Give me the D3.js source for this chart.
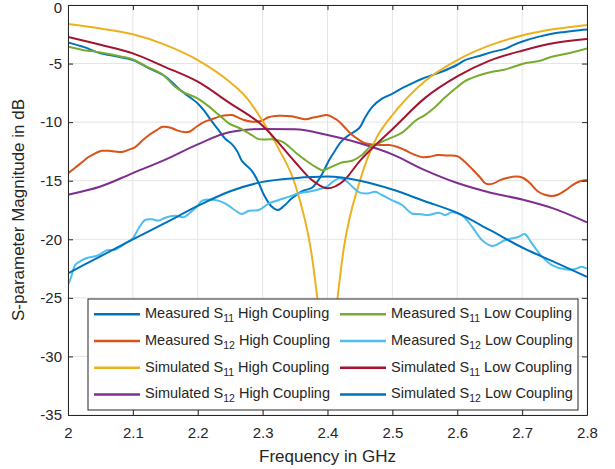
<!DOCTYPE html>
<html>
<head>
<meta charset="utf-8">
<script src="https://cdn.jsdelivr.net/npm/d3@7/dist/d3.min.js"></script>
<style>
    body { margin: 0; background: #fff; }
    text { font-family: 'Liberation Sans', Arial, Helvetica, sans-serif; fill: #262626; }
</style>
</head>
<body>
<script>
// ======================= DATA =======================
const xTicks = [2, 2.1, 2.2, 2.3, 2.4, 2.5, 2.6, 2.7, 2.8]
const yTicks = [0, -5, -10, -15, -20, -25, -30, -35]

const seriesNames = [
    'Measured S11 High Coupling', 'Measured S12 High Coupling',
    'Simulated S11 High Coupling', 'Simulated S12 High Coupling',
    'Measured S11 Low Coupling', 'Measured S12 Low Coupling',
    'Simulated S11 Low Coupling', 'Simulated S12 Low Coupling'
]
const seriesColors = ['#0072BD', '#D95319', '#EDB120', '#7E2F8E', '#77AC30', '#4DBEEE', '#A2142F', '#0072BD']

// measured S11, high coupling
const measS11HighFreq = [2.000, 2.025, 2.049, 2.076, 2.100, 2.125, 2.150, 2.174, 2.200, 2.211, 2.220, 2.231, 2.242, 2.253, 2.261, 2.268,
    2.284, 2.294, 2.302, 2.314, 2.324, 2.334, 2.345, 2.361, 2.376, 2.384, 2.392, 2.402, 2.412, 2.422, 2.433, 2.449, 2.458, 2.469,
    2.484, 2.499, 2.515, 2.530, 2.546, 2.561, 2.576, 2.600, 2.612, 2.634, 2.654, 2.674, 2.687, 2.704, 2.726, 2.746, 2.766, 2.781, 2.800]
const measS11High = [-3.2, -3.6, -4.1, -4.4, -4.7, -5.4, -6.1, -7.3, -8.4, -9.1, -9.8, -10.6, -11.4, -11.9, -12.5, -13.3,
    -14.2, -15.2, -16.2, -17.2, -17.5, -17.1, -16.5, -15.9, -15.6, -15.1, -14.4, -13.3, -12.4, -11.6, -11.1, -10.5, -9.6, -8.7,
    -8.0, -7.6, -7.1, -6.7, -6.3, -6.0, -5.7, -5.1, -4.7, -4.35, -4.0, -3.75, -3.4, -3.05, -2.7, -2.45, -2.3, -2.2, -2.1]

// measured S12, high coupling
const measS12HighFreq = [2.000, 2.011, 2.022, 2.031, 2.042, 2.052, 2.063, 2.072, 2.083, 2.094, 2.103, 2.114, 2.125, 2.136, 2.146, 2.157,
    2.168, 2.179, 2.188, 2.199, 2.211, 2.222, 2.233, 2.244, 2.253, 2.262, 2.271, 2.284, 2.299, 2.308, 2.319, 2.334, 2.345, 2.358,
    2.367, 2.378, 2.388, 2.399, 2.408, 2.419, 2.429, 2.438, 2.447, 2.458, 2.469, 2.481, 2.495, 2.507, 2.519, 2.535, 2.547, 2.558,
    2.570, 2.584, 2.600, 2.612, 2.623, 2.635, 2.644, 2.655, 2.666, 2.678, 2.691, 2.701, 2.712, 2.724, 2.735, 2.746, 2.755, 2.766,
    2.777, 2.789, 2.800]
const measS12High = [-14.37, -13.9, -13.4, -13.0, -12.66, -12.45, -12.45, -12.5, -12.55, -12.35, -12.15, -11.6, -11.1, -10.7, -10.4, -10.45,
    -10.7, -10.85, -10.8, -10.35, -9.96, -9.75, -9.53, -9.42, -9.39, -9.6, -9.82, -9.96, -9.88, -9.6, -9.47, -9.47, -9.5, -9.67,
    -9.76, -9.6, -9.5, -9.39, -9.6, -10.0, -10.6, -11.1, -11.45, -11.8, -11.9, -11.95, -11.95, -12.1, -12.38, -12.8, -13.0, -12.95,
    -12.8, -12.85, -12.9, -13.4, -14.0, -14.7, -15.25, -15.25, -14.95, -14.75, -14.65, -14.75, -15.2, -15.9, -16.2, -16.3, -16.2, -15.85,
    -15.4, -15.05, -14.94]

// simulated S11, high coupling (the notch goes down behind the legend)
const simS11HighFreq = [2.00, 2.05, 2.10, 2.15, 2.20, 2.25, 2.275, 2.30, 2.325, 2.35, 2.375, 2.39, 2.40, 2.41, 2.425, 2.45, 2.475,
    2.50, 2.55, 2.60, 2.65, 2.70, 2.75, 2.80]
const simS11High = [-1.62, -2.0, -2.5, -3.4, -4.7, -6.6, -7.9, -9.9, -12.3, -15.3, -21.1, -27.5, -31.5, -27.5, -20.8, -15.0, -11.4,
    -9.4, -6.5, -4.7, -3.45, -2.6, -2.05, -1.7]

// simulated S12, high coupling
const simS12HighFreq = [2.00, 2.05, 2.10, 2.15, 2.20, 2.25, 2.30, 2.35, 2.40, 2.45, 2.50, 2.55, 2.60, 2.65, 2.70, 2.75, 2.80]
const simS12High = [-16.2, -15.5, -14.35, -13.2, -11.9, -10.85, -10.58, -10.6, -11.1, -11.8, -12.75, -14.1, -15.2, -16.0, -16.6, -17.4, -18.55]

// measured S11, low coupling
const measS11LowFreq = [2.000, 2.022, 2.042, 2.063, 2.083, 2.100, 2.119, 2.145, 2.165, 2.180, 2.199, 2.211, 2.233, 2.248, 2.264, 2.279,
    2.294, 2.314, 2.330, 2.341, 2.353, 2.365, 2.381, 2.392, 2.407, 2.422, 2.438, 2.453, 2.466, 2.479, 2.495, 2.515, 2.535, 2.550,
    2.566, 2.581, 2.600, 2.612, 2.634, 2.654, 2.674, 2.687, 2.704, 2.726, 2.746, 2.766, 2.800]
const measS11Low = [-3.55, -3.84, -3.98, -4.18, -4.41, -4.64, -5.2, -5.9, -6.97, -7.5, -7.95, -8.4, -9.4, -10.1, -10.5, -10.95,
    -11.45, -11.47, -11.67, -12.1, -12.7, -13.2, -13.8, -14.1, -13.8, -13.45, -13.3, -12.8, -12.1, -11.8, -11.4, -10.9, -9.9, -9.4,
    -8.7, -7.9, -7.0, -6.5, -6.0, -5.7, -5.5, -5.27, -4.98, -4.78, -4.41, -4.18, -3.7]

// measured S12, low coupling
const measS12LowFreq = [2.000, 2.005, 2.011, 2.018, 2.029, 2.042, 2.049, 2.059, 2.072, 2.088, 2.100, 2.109, 2.119, 2.129, 2.140, 2.150,
    2.165, 2.179, 2.188, 2.199, 2.207, 2.227, 2.242, 2.257, 2.268, 2.279, 2.294, 2.310, 2.325, 2.341, 2.356, 2.371, 2.387, 2.399,
    2.408, 2.418, 2.427, 2.438, 2.449, 2.464, 2.473, 2.484, 2.499, 2.515, 2.530, 2.541, 2.556, 2.572, 2.581, 2.592, 2.607, 2.623,
    2.638, 2.654, 2.674, 2.695, 2.704, 2.715, 2.731, 2.746, 2.766, 2.781, 2.792, 2.800]
const measS12Low = [-23.9, -23.2, -22.2, -21.9, -21.6, -21.45, -21.3, -20.95, -20.9, -20.35, -19.9, -19.06, -18.35, -18.3, -18.4, -18.16,
    -18.0, -18.1, -17.73, -17.2, -16.7, -16.65, -16.93, -17.5, -17.84, -17.56, -17.5, -16.93, -16.65, -16.36, -16.07, -15.94, -15.73, -15.5,
    -15.1, -14.8, -14.94, -15.5, -16.0, -16.07, -15.94, -16.22, -16.65, -17.07, -17.8, -17.84, -17.93, -17.73, -17.93, -17.7, -17.93, -18.93,
    -20.06, -20.57, -20.06, -19.78, -19.55, -20.35, -21.5, -22.2, -22.56, -22.56, -22.34, -22.5]

// simulated S11, low coupling
const simS11LowFreq = [2.00, 2.05, 2.10, 2.15, 2.20, 2.25, 2.30, 2.35, 2.375, 2.40, 2.425, 2.45, 2.475, 2.50, 2.55, 2.60, 2.65, 2.70, 2.75, 2.80]
const simS11Low = [-2.73, -3.4, -4.13, -5.3, -6.55, -8.4, -10.3, -13.4, -14.9, -15.65, -15.0, -13.3, -11.9, -10.6, -7.95, -6.1, -4.75, -3.9, -3.25, -2.9]

// simulated S12, low coupling
const simS12LowFreq = [2.00, 2.05, 2.10, 2.15, 2.20, 2.25, 2.30, 2.35, 2.40, 2.45, 2.50, 2.55, 2.60, 2.65, 2.70, 2.75, 2.80]
const simS12Low = [-22.9, -21.45, -20.0, -18.6, -17.15, -15.9, -15.1, -14.78, -14.65, -15.0, -15.75, -16.75, -17.75, -19.2, -20.7, -21.95, -23.2]

// ======================= CHART =======================
const margin = {
        top: 5,
        right: 28,
        bottom: 54,
        left: 68
    },
    width = 615 - margin.left - margin.right,
    height = 469 - margin.top - margin.bottom

const axisColor = '#262626'
const gridColor = '#e4e4e4'

const svg = d3.select('body').append('svg')
    .attr('width', width + margin.left + margin.right)
    .attr('height', height + margin.top + margin.bottom)
    .append('g')
    .attr('transform', 'translate(' + margin.left + ',' + margin.top + ')')

const x = d3.scaleLinear().domain([2, 2.8]).range([0, width])
const y = d3.scaleLinear().domain([-35, 0]).range([height, 0])

// grid lines
svg.append('g').selectAll('line')
    .data(xTicks)
    .enter().append('line')
    .attr('x1', d => x(d)).attr('x2', d => x(d))
    .attr('y1', 0).attr('y2', height)
    .attr('stroke', gridColor)
svg.append('g').selectAll('line')
    .data(yTicks)
    .enter().append('line')
    .attr('x1', 0).attr('x2', width)
    .attr('y1', d => y(d)).attr('y2', d => y(d))
    .attr('stroke', gridColor)

// series
const series = [
    [measS11HighFreq, measS11High, 'm'],
    [measS12HighFreq, measS12High, 'm'],
    [simS11HighFreq, simS11High, 's'],
    [simS12HighFreq, simS12High, 's'],
    [measS11LowFreq, measS11Low, 'm'],
    [measS12LowFreq, measS12Low, 'm'],
    [simS11LowFreq, simS11Low, 's'],
    [simS12LowFreq, simS12Low, 's']
].map((s, i) => ({
    name: seriesNames[i],
    color: seriesColors[i],
    kind: s[2],
    values: s[0].map((f, j) => ({ f: f, v: s[1][j] }))
}))

svg.append('clipPath').attr('id', 'clip')
    .append('rect').attr('width', width).attr('height', height)

const lineMeas = d3.line().x(d => x(d.f)).y(d => y(d.v)).curve(d3.curveCatmullRom.alpha(0.5))
const lineSim = d3.line().x(d => x(d.f)).y(d => y(d.v)).curve(d3.curveMonotoneX)

svg.append('g').attr('clip-path', 'url(#clip)')
    .selectAll('path')
    .data(series)
    .enter().append('path')
    .attr('d', d => d.kind === 'm' ? lineMeas(d.values) : lineSim(d.values))
    .attr('fill', 'none')
    .attr('stroke', d => d.color)
    .attr('stroke-width', 2)
    .attr('stroke-linejoin', 'round')

// axes (ticks pointing inward, box on)
function styleAxis(g) {
    g.select('.domain').attr('stroke', axisColor)
    g.selectAll('.tick line').attr('stroke', axisColor)
    g.selectAll('.tick text').attr('fill', axisColor).attr('font-size', 15)
        .attr('font-family', "'Liberation Sans', Arial, sans-serif")
}

svg.append('g')
    .attr('transform', 'translate(0,' + height + ')')
    .call(d3.axisBottom(x).tickValues(xTicks).tickSizeInner(-5).tickSizeOuter(0).tickPadding(12)
        .tickFormat(d3.format('')))
    .call(styleAxis)

svg.append('g')
    .call(d3.axisTop(x).tickValues(xTicks).tickSizeInner(-5).tickSizeOuter(0).tickFormat(''))
    .call(styleAxis)

svg.append('g')
    .call(d3.axisLeft(y).tickValues(yTicks).tickSizeInner(-5).tickSizeOuter(0).tickPadding(6)
        .tickFormat(d => d === 0 ? '0' : '-' + Math.abs(d)))
    .call(styleAxis)
    .selectAll('.tick text')
    .attr('dy', d => d === 0 ? '0.48em' : '0.32em')

svg.append('g')
    .attr('transform', 'translate(' + width + ',0)')
    .call(d3.axisRight(y).tickValues(yTicks).tickSizeInner(-5).tickSizeOuter(0).tickFormat(''))
    .call(styleAxis)

// axis labels
svg.append('text')
    .attr('x', width / 2)
    .attr('y', 457)
    .attr('text-anchor', 'middle')
    .attr('font-size', 17)
    .text('Frequency in GHz')

svg.append('text')
    .attr('transform', 'translate(-44,' + (height / 2) + ') rotate(-90)')
    .attr('text-anchor', 'middle')
    .attr('font-size', 17)
    .text('S-parameter Magnitude in dB')

// ======================= LEGEND =======================
const legend = svg.append('g').attr('class', 'legend')

legend.append('rect')
    .attr('x', 20).attr('y', 294)
    .attr('width', 490).attr('height', 111)
    .attr('fill', '#fff')
    .attr('stroke', axisColor)
    .attr('stroke-width', 1)

const items = legend.selectAll('g.item')
    .data(series)
    .enter().append('g')
    .attr('class', 'item')
    .attr('transform', (d, i) => 'translate(' + (i < 4 ? 26 : 272) + ',' + (313.3 + (i % 4) * 26.7) + ')')

items.append('line')
    .attr('x1', 0).attr('x2', 46)
    .attr('y1', -4).attr('y2', -4)
    .attr('stroke', d => d.color)
    .attr('stroke-width', 2.5)

items.append('text')
    .attr('x', 51)
    .attr('font-size', 14.5)
    .each(function (d) {
        const parts = d.name.match(/^(.*S)(\d\d)(.*)$/)
        const t = d3.select(this)
        t.append('tspan').text(parts[1])
        t.append('tspan').attr('dy', 4).attr('font-size', 10.5).text(parts[2])
        t.append('tspan').attr('dy', -4).text(parts[3])
    })
</script>
</body>
</html>
